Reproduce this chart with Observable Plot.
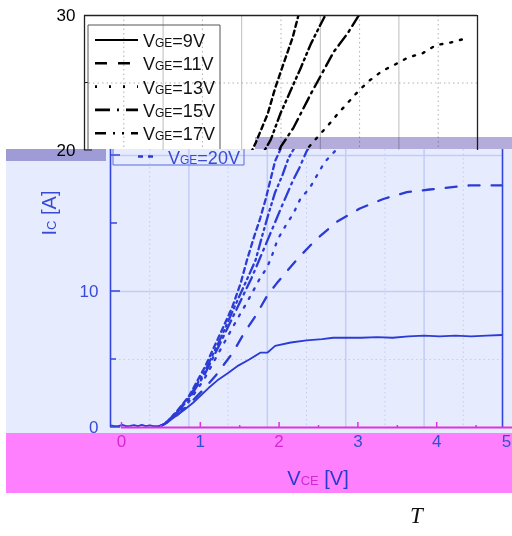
<!DOCTYPE html>
<html><head><meta charset="utf-8">
<script src="https://cdn.jsdelivr.net/npm/d3@7"></script>
<script src="https://cdn.jsdelivr.net/npm/@observablehq/plot@0.6"></script>
<style>
html,body{margin:0;padding:0;background:#fff;overflow:hidden}
#root{position:relative;width:512px;height:536px;overflow:hidden;font-family:"Liberation Sans",Arial,sans-serif}
</style></head><body><div id="root"></div>
<script>
// ---------------- data ----------------
const vgeLabels = ["9", "11", "13", "15", "17", "20"];
const vceTicks = [0, 1, 2, 3, 4, 5];
const vceHalfTicks = [0.5, 1.5, 2.5, 3.5, 4.5];
const icTopTicks = [20, 30];
const icBottomTicks = [0, 10];
const curve9 = [[0,0.15],[0.05,0.1],[0.1,0.1],[0.15,0.2],[0.2,0.1],[0.25,0.12],[0.3,0.18],[0.35,0.1],[0.4,0.2],[0.45,0.1],[0.5,0.15],[0.55,0.1],[0.6,0.1],[0.65,0.15],[0.72,0.35],[0.8,0.7],[0.93,1.25],[1.05,1.8],[1.15,2.35],[1.25,2.9],[1.36,3.45],[1.5,4.0],[1.63,4.55],[1.77,5.0],[1.91,5.5],[2.0,5.5],[2.1,6.0],[2.3,6.25],[2.5,6.4],[2.7,6.5],[2.84,6.6],[3.0,6.6],[3.2,6.6],[3.4,6.65],[3.6,6.6],[3.8,6.7],[4.0,6.75],[4.2,6.7],[4.4,6.75],[4.6,6.7],[4.8,6.75],[5.0,6.8]];
const curve11 = [[0.6,0],[0.7,0.3],[0.85,0.9],[1.0,1.7],[1.17,2.7],[1.34,3.8],[1.56,5.5],[1.7,6.9],[1.85,8.2],[2.0,9.7],[2.12,10.6],[2.37,12.3],[2.6,13.7],[2.88,15.1],[3.18,16.1],[3.48,16.8],[3.78,17.3],[4.07,17.5],[4.58,17.8],[5.0,17.8]];
const curve13 = [[0.6,0],[0.7,0.3],[0.85,1.0],[1.0,1.9],[1.2,3.6],[1.4,5.7],[1.6,7.8],[1.75,9.3],[1.9,10.9],[2.0,11.8],[2.07,12.8],[2.13,13.8],[2.23,14.8],[2.33,15.7],[2.42,16.8],[2.54,17.6],[2.64,18.6],[2.73,19.5],[2.86,20.3],[2.98,21.1],[3.09,21.8],[3.22,22.7],[3.36,23.6],[3.5,24.5],[3.63,25.2],[3.79,25.9],[3.96,26.4],[4.12,26.9],[4.3,27.2],[4.47,27.8],[4.66,28.0],[4.85,28.3]];
const curve15 = [[0.6,0],[0.7,0.3],[0.85,1.1],[1.0,2.1],[1.2,3.9],[1.4,6.2],[1.6,8.6],[1.8,11.0],[2.02,14.0],[2.18,16.2],[2.33,18.2],[2.41,19.1],[2.5,20.3],[2.66,21.7],[2.88,24.2],[3.03,25.8],[3.17,27.3],[3.35,28.7],[3.5,30.1]];
const curve17 = [[0.6,0],[0.7,0.3],[0.85,1.2],[1.0,2.2],[1.2,4.1],[1.4,6.5],[1.6,9.1],[1.75,11.0],[1.85,12.3],[1.94,14.2],[2.02,15.8],[2.1,17.3],[2.19,18.5],[2.27,19.8],[2.37,20.8],[2.49,22.7],[2.62,24.4],[2.75,26.1],[2.88,27.9],[3.0,29.3],[3.08,30.2]];
const curve20 = [[0.6,0],[0.7,0.3],[0.85,1.2],[1.0,2.3],[1.2,4.4],[1.4,6.9],[1.55,8.8],[1.66,10.6],[1.74,12.3],[1.83,14.0],[1.91,15.4],[1.98,16.8],[2.04,18.2],[2.1,19.6],[2.18,20.6],[2.33,22.7],[2.43,24.7],[2.53,26.4],[2.65,28.4],[2.73,30.2]];
const curves = [curve9, curve11, curve13, curve15, curve17, curve20];

// ---------------- styles ----------------
const curveDash = [null, "11,12", "2,8", "12,5,2,5", "10,4,2,4,2,4", "5,4"];
const legendDash = [null, "12,11", "2,12", "15,7,2,7,15", "11,7,2,7,2,7", "5,5"];
const BLUE = "#2b3bd6", BLUE_AX = "#3445de", BLUE_TXT = "#3a4ad8", GRID_B = "#c4ccf6";
const MAG = "#e030e0", MAG_BG = "#ff80ff";
const FONT = "Liberation Sans, Arial, sans-serif";
const fmt = d => String(d);

const root = document.getElementById("root");
function place(el, left, top, z) {
  el.style.position = "absolute"; el.style.left = left + "px"; el.style.top = top + "px";
  el.style.zIndex = z; root.appendChild(el); return el;
}
function box(left, top, w, h, bg, z, blend) {
  const d = document.createElement("div");
  d.style.width = w + "px"; d.style.height = h + "px"; d.style.background = bg;
  if (blend) d.style.mixBlendMode = blend;
  return place(d, left, top, z);
}
function lineMarks(color, width) {
  return curves.map((c, i) => Plot.line(c, {
    x: d => d[0], y: d => d[1], stroke: color,
    strokeWidth: i === 0 ? width * 0.8 : width,
    strokeDasharray: curveDash[i], clip: true
  }));
}
function vgeText(g, x, y, label, color) {
  const t = g.append("text").attr("x", x).attr("y", y).attr("fill", color)
    .attr("text-anchor", "start").attr("font-family", FONT).attr("font-size", 18);
  t.append("tspan").text("V");
  t.append("tspan").attr("font-size", 12).text("GE");
  t.append("tspan").text("=" + label + "V");
}

// ---------------- top (white) part ----------------
const topPlot = Plot.plot({
  width: 512, height: 150, marginLeft: 84, marginRight: 35, marginTop: 15, marginBottom: 0,
  x: {domain: [0, 5], axis: null},
  y: {domain: [20, 30], axis: null},
  style: {background: "transparent", fontFamily: FONT, overflow: "visible"},
  marks: [
    Plot.ruleX(vceHalfTicks, {stroke: "#b0b0b0", strokeDasharray: "1.5,3"}),
    Plot.ruleX(vceTicks.slice(1, -1), {stroke: "#bdbdbd"}),
    Plot.ruleY([25], {stroke: "#b0b0b0", strokeDasharray: "1.5,3"}),
    ...lineMarks("#000", 2.4),
    Plot.ruleX([0, 5], {stroke: "#222", strokeWidth: 1.3}),
    Plot.ruleY([30], {stroke: "#222", strokeWidth: 1.6}),
    Plot.axisY({ticks: icTopTicks, tickFormat: fmt, tickSize: 0, tickPadding: 9, fontSize: 17, fill: "#000"})
  ]
});
place(topPlot, 0, 0, 4);
{
  const svg = d3.select(topPlot);
  const xs = topPlot.scale("x"), ys = topPlot.scale("y");
  [[25, 4], [20, 8]].forEach(([v, len]) => svg.append("line")
    .attr("x1", xs.apply(0)).attr("x2", xs.apply(0) + len)
    .attr("y1", ys.apply(v)).attr("y2", ys.apply(v)).attr("stroke", "#222"));
  const g = svg.append("g");
  g.append("path").attr("d", "M88,149V25H220V149").attr("fill", "none").attr("stroke", "#555");
  vgeLabels.slice(0, 5).forEach((lab, i) => {
    const yb = 47 + 23.3 * i;
    g.append("line").attr("x1", 95).attr("x2", 138).attr("y1", yb - 7).attr("y2", yb - 7)
      .attr("stroke", "#000").attr("stroke-width", i === 0 ? 2.2 : 2.6)
      .attr("stroke-dasharray", legendDash[i]);
    vgeText(g, 143, yb, lab, "#111");
  });
}

// ---------------- bottom (blue tinted) part ----------------
box(6, 149, 506, 284, "#e6ecfd", 1);
const botPlot = Plot.plot({
  width: 512, height: 284, marginLeft: 110, marginRight: 10, marginTop: 0, marginBottom: 6,
  x: {domain: [0, 5], axis: null},
  y: {domain: [0, 20.44], axis: null},
  style: {background: "transparent", fontFamily: FONT, overflow: "visible"},
  marks: [
    Plot.ruleX(vceHalfTicks, {stroke: GRID_B, strokeDasharray: "1.5,3"}),
    Plot.ruleX(vceTicks.slice(1, -1), {stroke: GRID_B, strokeWidth: 1.5}),
    Plot.ruleY([5], {stroke: GRID_B, strokeDasharray: "1.5,3"}),
    Plot.ruleY([10, 20], {stroke: GRID_B, strokeWidth: 1.5}),
    ...lineMarks(BLUE, 2.3),
    Plot.ruleX([0, 5], {stroke: BLUE_AX, strokeWidth: 1.6}),
    Plot.axisY({ticks: icBottomTicks, tickFormat: fmt, tickSize: 0, tickPadding: 12, fontSize: 17, fill: BLUE_TXT})
  ]
});
place(botPlot, 0, 149, 2);
{
  const svg = d3.select(botPlot);
  const xs = botPlot.scale("x"), ys = botPlot.scale("y");
  [[0, 10], [5, 6], [10, 10], [15, 7], [20, 10]].forEach(([v, len]) => svg.append("line")
    .attr("x1", xs.apply(0)).attr("x2", xs.apply(0) + len)
    .attr("y1", ys.apply(v)).attr("y2", ys.apply(v)).attr("stroke", BLUE_AX).attr("stroke-width", 1.5));
  // y-axis title I_C [A]
  const t = svg.append("text").attr("transform", `translate(56,${ys.apply(10) - 78}) rotate(-90)`)
    .attr("text-anchor", "middle").attr("fill", BLUE_TXT).attr("font-family", FONT).attr("font-size", 20);
  t.append("tspan").text("I");
  t.append("tspan").attr("font-size", 13).text("C");
  t.append("tspan").text(" [A]");
  // lower part of the legend box (shifted like the rest of this panel)
  const g = svg.append("g").attr("transform", "translate(25,-149)");
  g.append("path").attr("d", "M88,149V165H219V149").attr("fill", "none").attr("stroke", "#5a68e0");
  const i = 5, yb = 47 + 23.3 * i;
  g.append("line").attr("x1", 113).attr("x2", 130).attr("y1", yb - 7).attr("y2", yb - 7)
    .attr("stroke", BLUE).attr("stroke-width", 2.4).attr("stroke-dasharray", legendDash[i]);
  vgeText(g, 143, yb, vgeLabels[i], BLUE_TXT);
}

// ---------------- x axis band (magenta) ----------------
box(6, 433, 506, 60, MAG_BG, 1);
const magTicks = vceTicks.filter(v => v === 0 || v === 2);
const blueTicks = vceTicks.filter(v => v !== 0 && v !== 2 && v !== 5);
const band = Plot.plot({
  width: 512, height: 73, marginLeft: 121, marginRight: -3, marginTop: 7, marginBottom: 66,
  x: {domain: [0, 5], label: null},
  y: {domain: [0, 1], axis: null},
  style: {background: "transparent", fontFamily: FONT, overflow: "visible"},
  marks: [
    Plot.ruleY([1], {stroke: MAG, strokeWidth: 2}),
    Plot.axisX({anchor: "top", ticks: vceHalfTicks, tickSize: 3, tickFormat: () => "", stroke: MAG, strokeWidth: 1.5, label: null}),
    Plot.axisX({anchor: "top", ticks: vceTicks, tickSize: 6, tickFormat: () => "", stroke: MAG, strokeWidth: 1.5, label: null}),
    Plot.axisX({anchor: "bottom", ticks: magTicks, tickFormat: fmt, tickSize: 0, tickPadding: 7, fontSize: 17, fill: "#d02ad0", label: null}),
    Plot.axisX({anchor: "bottom", ticks: blueTicks, tickFormat: fmt, tickSize: 0, tickPadding: 7, fontSize: 17, fill: "#3050d0", label: null}),
    Plot.axisX({anchor: "bottom", ticks: [vceTicks[vceTicks.length - 1]], tickFormat: fmt, tickSize: 0, tickPadding: 7, fontSize: 17, fill: "#3050d0", dx: -9, label: null})
  ]
});
place(band, 0, 420, 3);
{
  const svg = d3.select(band);
  const xs = band.scale("x");
  const t = svg.append("text").attr("x", xs.apply(2.5)).attr("y", 65).attr("text-anchor", "middle")
    .attr("font-family", FONT).attr("font-size", 20).attr("fill", "#2a3ad0");
  t.append("tspan").text("V");
  t.append("tspan").attr("font-size", 13).attr("fill", "#d02ad0").text("CE");
  t.append("tspan").text(" [V]");
}

// ---------------- overlay strips ----------------
box(255, 137, 257, 12, "#b4addc", 5, "multiply");
box(6, 149, 100, 12, "#b0a8d8", 5, "multiply");

// caption letter
const T = document.createElement("div");
T.textContent = "T";
T.style.font = "italic 23px 'Liberation Serif', 'DejaVu Serif', serif";
T.style.color = "#111";
place(T, 410, 503, 6);
</script>
</body></html>
